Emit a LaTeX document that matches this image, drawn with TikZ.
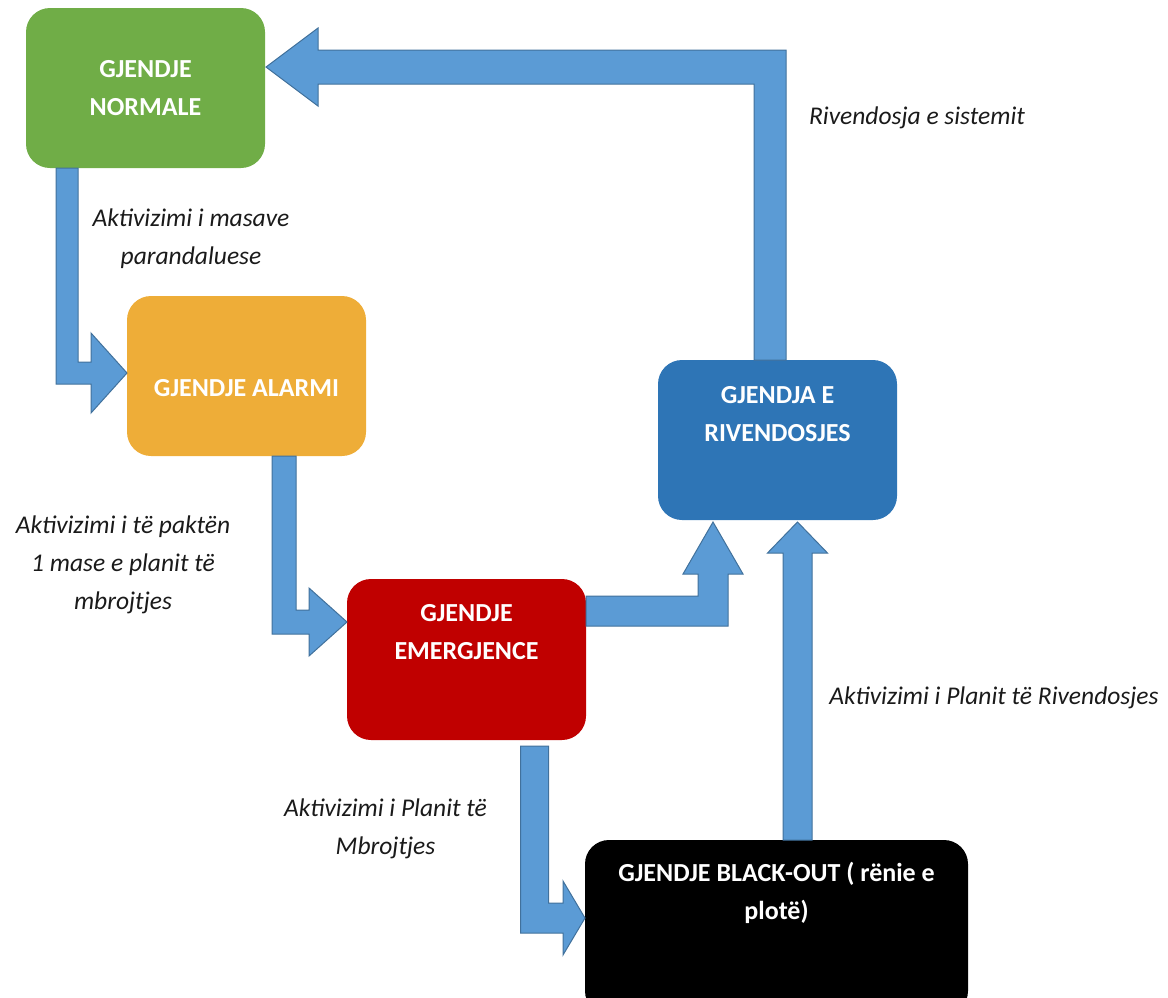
\documentclass[tikz,border=0pt]{standalone}
\usepackage{fontspec}
\setmainfont{Carlito}
\usetikzlibrary{calc}
\definecolor{cgreen}{HTML}{70AD47}
\definecolor{corange}{HTML}{EEAD38}
\definecolor{cred}{HTML}{C00000}
\definecolor{cblue}{HTML}{2E75B6}
\definecolor{afill}{HTML}{5B9BD5}
\definecolor{aedge}{HTML}{41719C}
\definecolor{labc}{HTML}{1A1A1A}
\begin{document}
\begin{tikzpicture}[x=1pt,y=-1pt,
  box/.style={rounded corners=24pt, minimum width=239pt, minimum height=160pt, inner sep=0pt, outer sep=0pt},
  boxtext/.style={text=white, font=\fontsize{26}{38}\selectfont\bfseries, align=center, inner sep=0pt},
  lab/.style={font=\fontsize{25.5}{38}\selectfont\itshape, align=center, text=labc, inner sep=0pt},
  barrow/.style={fill=afill, draw=aedge, line width=1pt, line join=miter}]
\path[use as bounding box] (0,0) rectangle (1168,997);
\clip (0,0) rectangle (1168,997);

% boxes
\node[box, fill=cgreen] (normal) at (145.5,88) {};
\node[box, fill=corange] (alarm) at (246.5,376) {};
\node[box, fill=cred, minimum height=161pt] (emerg) at (466.5,659.5) {};
\node[box, fill=cblue] (riv) at (777.5,440) {};
\node[box, fill=black, minimum width=383pt, minimum height=175pt] (black) at (776.5,927.5) {};

% box texts
\node[boxtext] (normal-t) at (normal.center) {GJENDJE\\NORMALE};
\node[boxtext] (alarm-t) at ($(alarm.center)+(0,12)$) {GJENDJE ALARMI};
\node[boxtext] (emerg-t) at ($(emerg.north)+(0,53.5)$) {GJENDJE\\EMERGJENCE};
\node[boxtext] (riv-t) at ($(riv.north)+(0,54)$) {GJENDJA E\\RIVENDOSJES};
\node[boxtext] (black-t) at ($(black.north)+(0,52.5)$) {GJENDJE BLACK-OUT ( rënie e\\plotë)};

% arrow 1: normal -> alarm
\coordinate (a1s) at ($(normal.south)+(-78.5,0)$);
\coordinate (a1t) at ($(alarm.west)+(0,-3)$);
\coordinate (a1c) at (a1s|-a1t);
\draw[barrow] ($(a1s)+(-11,0)$) -- ($(a1s)+(11,0)$) -- ($(a1c)+(11,-11)$) -- ($(a1t)+(-36,-11)$)
  -- ($(a1t)+(-36,-40)$) -- (a1t) -- ($(a1t)+(-36,40)$) -- ($(a1t)+(-36,11)$) -- ($(a1c)+(-11,11)$) -- cycle;

% arrow 2: alarm -> emergjence
\coordinate (a2s) at ($(alarm.south)+(37.5,0)$);
\coordinate (a2t) at ($(emerg.north west)+(0,43)$);
\coordinate (a2c) at (a2s|-a2t);
\draw[barrow] ($(a2s)+(-12,0)$) -- ($(a2s)+(12,0)$) -- ($(a2c)+(12,-12)$) -- ($(a2t)+(-38,-12)$)
  -- ($(a2t)+(-38,-34)$) -- (a2t) -- ($(a2t)+(-38,34)$) -- ($(a2t)+(-38,12)$) -- ($(a2c)+(-12,12)$) -- cycle;

% arrow 5: emergjence -> black-out
\coordinate (a5s) at ($(emerg.south)+(68,6)$);
\coordinate (a5t) at ($(black.north west)+(0,78)$);
\coordinate (a5c) at (a5s|-a5t);
\draw[barrow] ($(a5s)+(-14,0)$) -- ($(a5s)+(14,0)$) -- ($(a5c)+(14,-15)$) -- ($(a5t)+(-22,-15)$)
  -- ($(a5t)+(-22,-37)$) -- (a5t) -- ($(a5t)+(-22,37)$) -- ($(a5t)+(-22,15)$) -- ($(a5c)+(-14,15)$) -- cycle;

% arrow 3: emergjence -> rivendosjes
\coordinate (a3s) at ($(emerg.north east)+(0,32)$);
\coordinate (a3t) at ($(riv.south west)+(55,2)$);
\coordinate (a3c) at (a3t|-a3s);
\draw[barrow] ($(a3s)+(0,-15)$) -- ($(a3c)+(-15,-15)$) -- ($(a3t)+(-15,52)$) -- ($(a3t)+(-30,52)$)
  -- (a3t) -- ($(a3t)+(30,52)$) -- ($(a3t)+(15,52)$) -- ($(a3c)+(15,15)$) -- ($(a3s)+(0,15)$) -- cycle;

% arrow 4: black-out -> rivendosjes
\coordinate (a4s) at ($(black.north)+(21,0)$);
\coordinate (a4u) at (a4s|-riv.south);
\coordinate (a4t) at ($(a4u)+(0,2)$);
\draw[barrow] ($(a4s)+(-14.5,0)$) -- ($(a4t)+(-14.5,31)$) -- ($(a4t)+(-30,31)$) -- (a4t)
  -- ($(a4t)+(30,31)$) -- ($(a4t)+(14.5,31)$) -- ($(a4s)+(14.5,0)$) -- cycle;

% arrow 6: rivendosjes -> normal
\coordinate (a6s) at ($(riv.north)+(-7.5,0)$);
\coordinate (a6t) at ($(normal.north east)+(1,59)$);
\coordinate (a6c) at (a6s|-a6t);
\draw[barrow] ($(a6s)+(-16,0)$) -- ($(a6c)+(-16,17)$) -- ($(a6t)+(52,17)$) -- ($(a6t)+(52,39)$)
  -- (a6t) -- ($(a6t)+(52,-39)$) -- ($(a6t)+(52,-17)$) -- ($(a6c)+(16,-17)$) -- ($(a6s)+(16,0)$) -- cycle;

% labels
\node[lab] (l1) at (191,239) {Aktivizimi i masave\\parandaluese};
\node[lab] (l2) at (123,565) {Aktivizimi i të paktën\\1 mase e planit të\\mbrojtjes};
\node[lab] (l3) at (385.5,828.5) {Aktivizimi i Planit të\\Mbrojtjes};
\node[lab] (l4) at (917,118) {Rivendosja e sistemit};
\node[lab] (l5) at (994,698) {Aktivizimi i Planit të Rivendosjes};
\end{tikzpicture}
\end{document}
